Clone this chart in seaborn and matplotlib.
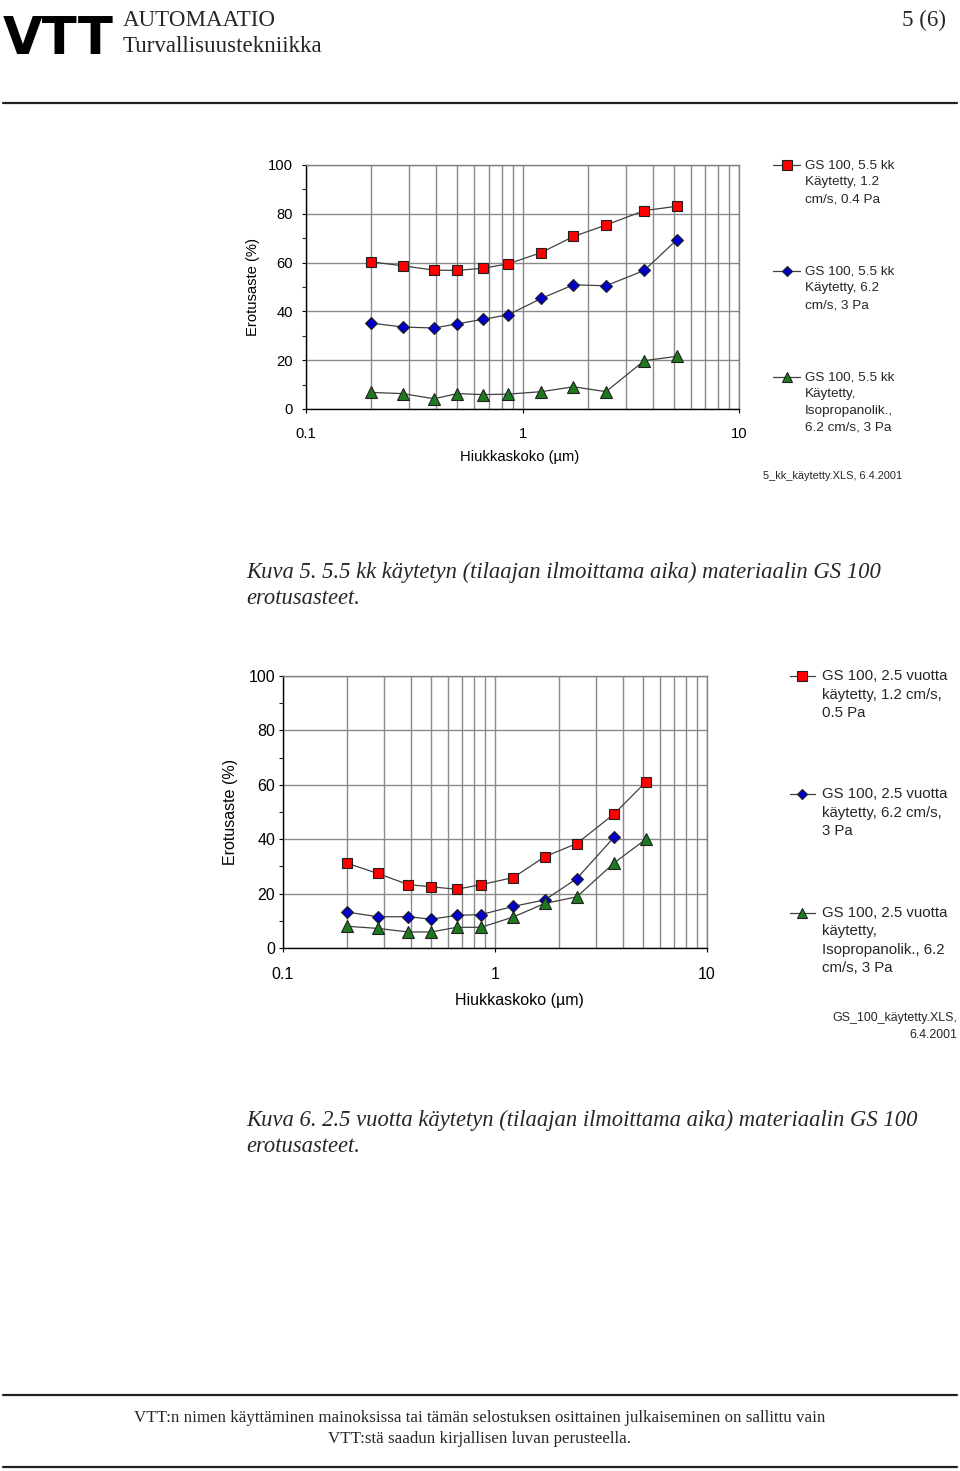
import numpy as np
import pandas as pd
import matplotlib
matplotlib.use("Agg")
import matplotlib.pyplot as plt
import seaborn as sns
from matplotlib.lines import Line2D
from matplotlib.ticker import LogLocator, MultipleLocator, NullFormatter, FixedLocator

# ==========================================
# Data (read from the scanned report page)
# ==========================================
size_um = [0.2, 0.28, 0.39, 0.5, 0.66, 0.86, 1.22, 1.72, 2.43, 3.65, 5.17]

# Kuva 5: 5.5 kk käytetty
k5_red = [60.3, 58.7, 56.9, 56.8, 57.7, 59.5, 64.1, 70.7, 75.4, 81.3, 83.1]
k5_blue = [35.2, 33.6, 33.2, 34.9, 36.8, 38.6, 45.3, 50.9, 50.5, 56.8, 69.4]
k5_green = [6.8, 6.3, 4.2, 6.3, 5.9, 6.1, 7.1, 9.1, 7.1, 19.8, 21.6]
k5_labels = ["GS 100, 5.5 kk\nKäytetty, 1.2\ncm/s, 0.4 Pa",
             "GS 100, 5.5 kk\nKäytetty, 6.2\ncm/s, 3 Pa",
             "GS 100, 5.5 kk\nKäytetty,\nIsopropanolik.,\n6.2 cm/s, 3 Pa"]

# Kuva 6: 2.5 vuotta käytetty (blue series has no point at the largest size)
k6_red = [31.2, 27.4, 23.3, 22.5, 21.6, 23.3, 25.9, 33.6, 38.4, 49.3, 61.2]
k6_blue = [13.2, 11.5, 11.5, 10.6, 12.0, 12.3, 15.3, 17.7, 25.5, 40.8]
k6_green = [8.0, 7.2, 5.9, 5.9, 7.6, 7.6, 11.4, 16.4, 18.8, 31.3, 40.1]
k6_labels = ["GS 100, 2.5 vuotta\nkäytetty, 1.2 cm/s,\n0.5 Pa",
             "GS 100, 2.5 vuotta\nkäytetty, 6.2 cm/s,\n3 Pa",
             "GS 100, 2.5 vuotta\nkäytetty,\nIsopropanolik., 6.2\ncm/s, 3 Pa"]

x_ticks = [0.1, 1, 10]
x_ticklabels = ["0.1", "1", "10"]
y_ticks = [0, 20, 40, 60, 80, 100]

series_names = ["red", "blue", "green"]
colors = {"red": "#FF0000", "blue": "#0000C8", "green": "#1E7A1E"}
markers = {"red": "s", "blue": "D", "green": "^"}
msize = {"red": 7.8, "blue": 6.2, "green": 8.3}

W, H = 960, 1471
SANS = ["Liberation Sans", "DejaVu Sans"]
SERIF = ["Liberation Serif", "DejaVu Serif"]


def fx(x):
    return x / W


def fy(y):
    return 1 - y / H


def make_df(red, blue, green):
    rows = []
    for name, vals in zip(series_names, [red, blue, green]):
        for xv, yv in zip(size_um, vals):
            rows.append({"Hiukkaskoko": xv, "Erotusaste": yv, "series": name})
    return pd.DataFrame(rows)


sns.set_theme(style="white")
plt.rcParams["font.family"] = SANS

fig = plt.figure(figsize=(W / 100, H / 100), dpi=100)


def draw_chart(box, df, fs, ypad, xpad, ylab_x, xlab_pos):
    left, top, right, bottom = box
    ax = fig.add_axes([fx(left), fy(bottom), fx(right - left), (bottom - top) / H])
    # grey connecting lines
    sns.lineplot(data=df, x="Hiukkaskoko", y="Erotusaste", units="series",
                 estimator=None, color="#404040", lw=0.9, ax=ax, legend=False,
                 zorder=3)
    for name in series_names:
        sub = df[df["series"] == name]
        ax.plot(sub["Hiukkaskoko"], sub["Erotusaste"], ls="none",
                marker=markers[name], ms=msize[name], mfc=colors[name],
                mec="#202020", mew=0.8, zorder=4)
    ax.set_xscale("log")
    ax.set_xlim(0.1, 10)
    ax.set_ylim(0, 100)
    ax.xaxis.set_major_locator(FixedLocator(x_ticks))
    ax.set_xticklabels(x_ticklabels)
    ax.xaxis.set_minor_locator(LogLocator(base=10, subs=np.arange(2, 10)))
    ax.xaxis.set_minor_formatter(NullFormatter())
    ax.set_yticks(y_ticks)
    ax.yaxis.set_minor_locator(MultipleLocator(10))
    ax.grid(True, which="both", axis="x", color="#8a8a8a", lw=1.0)
    ax.grid(True, which="major", axis="y", color="#8a8a8a", lw=1.0)
    ax.set_axisbelow(True)
    ax.tick_params(axis="y", which="major", direction="out", length=3, width=0.8,
                   left=True, pad=ypad, labelsize=fs, colors="black")
    ax.tick_params(axis="y", which="minor", direction="out", length=3, width=0.8, left=True)
    ax.tick_params(axis="x", which="major", direction="out", length=3, width=0.8,
                   bottom=True, pad=xpad, labelsize=fs, colors="black")
    ax.tick_params(axis="x", which="minor", length=0)
    for s in ["left", "bottom"]:
        ax.spines[s].set_color("black")
        ax.spines[s].set_linewidth(1.0)
    for s in ["top", "right"]:
        ax.spines[s].set_color("#808080")
        ax.spines[s].set_linewidth(1.0)
    ax.set_xlabel("Hiukkaskoko (µm)", fontsize=fs, color="black")
    ax.set_ylabel("Erotusaste (%)", fontsize=fs, color="black")
    ax.xaxis.label.set_va("center")
    ax.yaxis.label.set_va("center")
    ax.yaxis.set_label_coords((ylab_x - left) / (right - left), 0.5)
    ax.xaxis.set_label_coords((xlab_pos[0] - left) / (right - left),
                              -(xlab_pos[1] - bottom) / (bottom - top))
    return ax


def draw_legend(labels, line_x, mark_x, text_x, item_ys, line_h, fs):
    for name, lab, yy in zip(series_names, labels, item_ys):
        fig.add_artist(Line2D([fx(line_x[0]), fx(line_x[1])], [fy(yy), fy(yy)],
                              color="#404040", lw=0.9))
        fig.add_artist(Line2D([fx(mark_x)], [fy(yy)], ls="none", marker=markers[name],
                              ms=msize[name] * 0.9, mfc=colors[name], mec="#202020", mew=0.8))
        for i, ln in enumerate(lab.split("\n")):
            fig.text(fx(text_x), fy(yy + i * line_h), ln, fontsize=fs,
                     ha="left", va="center", family=SANS)


# ---------------- Kuva 5 ----------------
df5 = make_df(k5_red, k5_blue, k5_green)
draw_chart((306, 165, 739, 409), df5, 10.6, 6.5, 10, 253, (520, 457))
draw_legend(k5_labels, (773, 800), 787, 805, [165, 271, 377], 17, 9.7)
fig.text(fx(763), fy(476), "5_kk_käytetty.XLS, 6.4.2001", fontsize=7.9,
         ha="left", va="center", family=SANS)

# ---------------- Kuva 6 ----------------
df6 = make_df(k6_red, k6_blue + [np.nan], k6_green)
draw_chart((283, 676, 707, 948), df6.dropna(), 11.5, 2.5, 11, 231, (519, 1001))
draw_legend(k6_labels, (790, 815), 802, 822, [676, 794, 913], 18.5, 10.8)
fig.text(fx(957), fy(1018), "GS_100_käytetty.XLS,", fontsize=8.9,
         ha="right", va="center", family=SANS)
fig.text(fx(957), fy(1035), "6.4.2001", fontsize=8.9,
         ha="right", va="center", family=SANS)

# ---------------- Page header / captions / footer ----------------
fig.text(fx(3), fy(54), "VTT", fontsize=37, fontweight="heavy", ha="left",
         va="baseline", color="black", family=["DejaVu Sans"])
fig.text(fx(123), fy(20), "AUTOMAATIO", fontsize=16.6, ha="left", va="center", family=SERIF)
fig.text(fx(123), fy(47), "Turvallisuustekniikka", fontsize=16.6, ha="left", va="center",
         family=SERIF)
fig.text(fx(946), fy(20), "5 (6)", fontsize=16.6, ha="right", va="center", family=SERIF)
fig.add_artist(Line2D([fx(3), fx(957)], [fy(103), fy(103)], color="#202020", lw=1.6))

fig.text(fx(246), fy(572), "Kuva 5. 5.5 kk käytetyn (tilaajan ilmoittama aika) materiaalin GS 100",
         fontsize=16.3, style="italic", ha="left", va="center", family=SERIF)
fig.text(fx(246), fy(598), "erotusasteet.", fontsize=16.3, style="italic", ha="left",
         va="center", family=SERIF)
fig.text(fx(246), fy(1120), "Kuva 6. 2.5 vuotta käytetyn (tilaajan ilmoittama aika) materiaalin GS 100",
         fontsize=16.3, style="italic", ha="left", va="center", family=SERIF)
fig.text(fx(246), fy(1147), "erotusasteet.", fontsize=16.3, style="italic", ha="left",
         va="center", family=SERIF)

fig.add_artist(Line2D([fx(3), fx(957)], [fy(1395), fy(1395)], color="#202020", lw=1.6))
fig.text(fx(480), fy(1418),
         "VTT:n nimen käyttäminen mainoksissa tai tämän selostuksen osittainen julkaiseminen on sallittu vain",
         fontsize=12.2, ha="center", va="center", family=SERIF)
fig.text(fx(480), fy(1439), "VTT:stä saadun kirjallisen luvan perusteella.",
         fontsize=12.2, ha="center", va="center", family=SERIF)
fig.add_artist(Line2D([fx(3), fx(957)], [fy(1467), fy(1467)], color="#202020", lw=1.6))

fig.savefig("out.png", dpi=100, facecolor="white")
